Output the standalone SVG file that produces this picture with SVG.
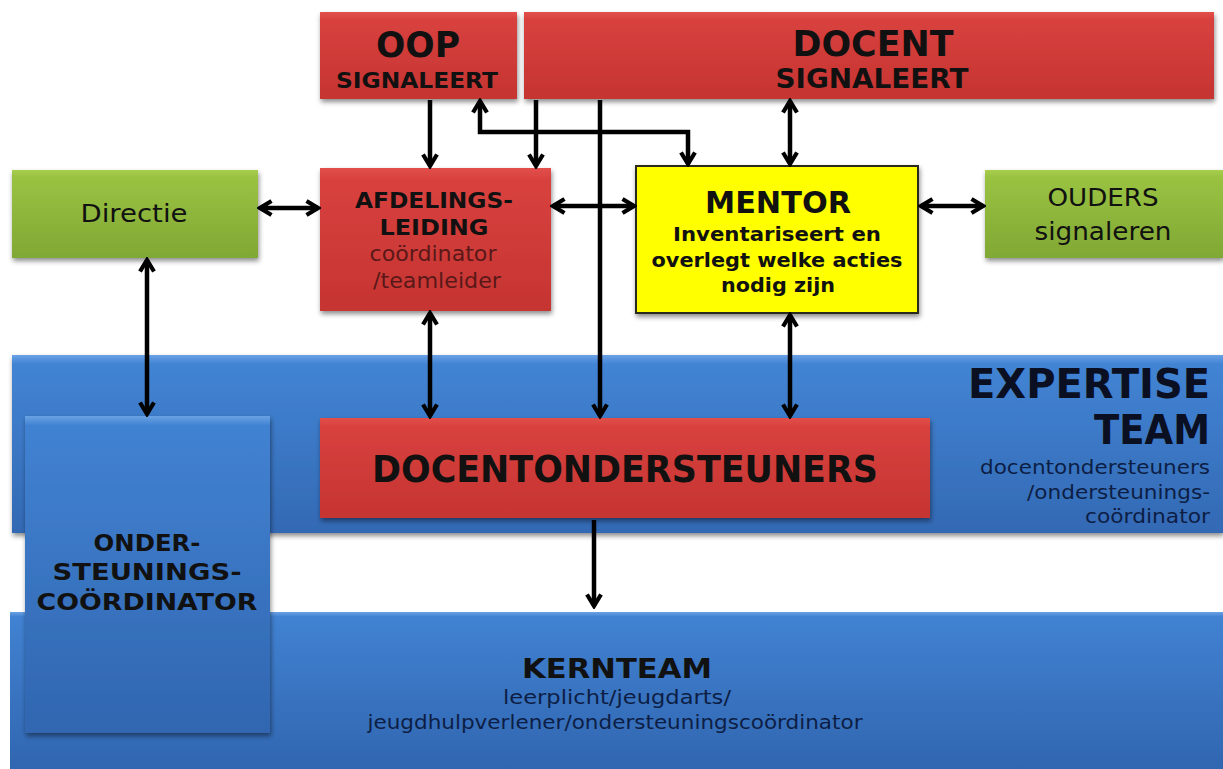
<svg xmlns="http://www.w3.org/2000/svg" width="1223" height="769" viewBox="0 0 1223 769">
<defs>
<linearGradient id="gRed" x1="0" y1="0" x2="0" y2="1"><stop offset="0" stop-color="#e2504b"/><stop offset="0.08" stop-color="#d8413e"/><stop offset="1" stop-color="#c53431"/></linearGradient>
<linearGradient id="gGreen" x1="0" y1="0" x2="0" y2="1"><stop offset="0" stop-color="#a8ce4e"/><stop offset="0.08" stop-color="#9ac242"/><stop offset="1" stop-color="#80a834"/></linearGradient>
<linearGradient id="gBlue" x1="0" y1="0" x2="0" y2="1"><stop offset="0" stop-color="#6aa2e4"/><stop offset="0.05" stop-color="#4284d4"/><stop offset="1" stop-color="#3369b4"/></linearGradient>
<linearGradient id="gBlue2" x1="0" y1="0" x2="0" y2="1"><stop offset="0" stop-color="#6aa2e4"/><stop offset="0.03" stop-color="#4182d2"/><stop offset="1" stop-color="#3166b0"/></linearGradient>
<filter id="sh" x="-5%" y="-5%" width="115%" height="120%"><feDropShadow dx="1" dy="3" stdDeviation="2.5" flood-color="#000" flood-opacity="0.45"/></filter>
<marker id="ah" viewBox="0 0 18 18" refX="15" refY="9" markerWidth="18" markerHeight="18" markerUnits="userSpaceOnUse" orient="auto-start-reverse">
<path d="M3.5,2 L15,9 L3.5,16" fill="none" stroke="#000" stroke-width="4.2" stroke-linejoin="miter"/>
</marker>
<style>
.t{font-family:"DejaVu Sans","Verdana",sans-serif;fill:#111;text-anchor:middle}
.b{font-weight:bold}
.r{text-anchor:end}
.red{fill:url(#gRed)}
.green{fill:url(#gGreen)}
.c{fill:none;stroke:#000;stroke-width:4.5}
</style>
</defs>
<rect width="1223" height="769" fill="#fff"/>

<g id="expertise">
<rect x="12" y="355" width="1211" height="178" fill="url(#gBlue)" filter="url(#sh)"/>
<text class="t b r" x="1210" y="398" font-size="41" textLength="242" lengthAdjust="spacingAndGlyphs" style="fill:#0a0f22">EXPERTISE</text>
<text class="t b r" x="1210" y="444" font-size="41" textLength="116" lengthAdjust="spacingAndGlyphs" style="fill:#0a0f22">TEAM</text>
<text class="t r" x="1210" y="474" font-size="20" textLength="230" lengthAdjust="spacingAndGlyphs" style="fill:#0d1e45">docentondersteuners</text>
<text class="t r" x="1210" y="499" font-size="20" textLength="183" lengthAdjust="spacingAndGlyphs" style="fill:#0d1e45">/ondersteunings-</text>
<text class="t r" x="1210" y="523" font-size="20" textLength="125" lengthAdjust="spacingAndGlyphs" style="fill:#0d1e45">coördinator</text>
</g>

<g id="kernteam">
<rect x="10" y="612" width="1213" height="157" fill="url(#gBlue2)"/>
<text class="t b" x="617" y="678" font-size="27" textLength="190" lengthAdjust="spacingAndGlyphs">KERNTEAM</text>
<text class="t" x="617" y="704" font-size="19" style="fill:#0d1e45" textLength="228" lengthAdjust="spacingAndGlyphs">leerplicht/jeugdarts/</text>
<text class="t" x="615" y="729" font-size="19" style="fill:#0d1e45" textLength="495" lengthAdjust="spacingAndGlyphs">jeugdhulpverlener/ondersteuningscoördinator</text>
</g>

<g id="ondersteunings">
<rect x="25" y="416" width="245" height="317" fill="url(#gBlue2)" filter="url(#sh)"/>
<text class="t b" x="147" y="551" font-size="23" textLength="107" lengthAdjust="spacingAndGlyphs">ONDER-</text>
<text class="t b" x="147" y="580" font-size="23" textLength="189" lengthAdjust="spacingAndGlyphs">STEUNINGS-</text>
<text class="t b" x="147" y="610" font-size="23" textLength="221" lengthAdjust="spacingAndGlyphs">COÖRDINATOR</text>
</g>

<g id="docentondersteuners">
<rect x="320" y="418" width="610" height="100" class="red" filter="url(#sh)"/>
<text class="t b" x="625" y="482" font-size="38" textLength="506" lengthAdjust="spacingAndGlyphs">DOCENTONDERSTEUNERS</text>
</g>

<g id="oop">
<rect x="320" y="12" width="197" height="87" class="red" filter="url(#sh)"/>
<text class="t b" x="418" y="57" font-size="35" textLength="84" lengthAdjust="spacingAndGlyphs">OOP</text>
<text class="t b" x="417" y="88" font-size="21" textLength="162" lengthAdjust="spacingAndGlyphs">SIGNALEERT</text>
</g>

<g id="docent">
<rect x="524" y="12" width="690" height="87" class="red" filter="url(#sh)"/>
<text class="t b" x="873" y="56" font-size="35" textLength="161" lengthAdjust="spacingAndGlyphs">DOCENT</text>
<text class="t b" x="872" y="88" font-size="27" textLength="193" lengthAdjust="spacingAndGlyphs">SIGNALEERT</text>
</g>

<g id="directie">
<rect x="12" y="170" width="246" height="88" class="green" filter="url(#sh)"/>
<text class="t" x="134" y="222" font-size="25" textLength="107" lengthAdjust="spacingAndGlyphs">Directie</text>
</g>

<g id="afdelingsleiding">
<rect x="320" y="168" width="231" height="143" class="red" filter="url(#sh)"/>
<text class="t b" x="434" y="208" font-size="22" textLength="158" lengthAdjust="spacingAndGlyphs">AFDELINGS-</text>
<text class="t b" x="434" y="235" font-size="22" textLength="109" lengthAdjust="spacingAndGlyphs">LEIDING</text>
<text class="t" x="433" y="261" font-size="21" textLength="127" lengthAdjust="spacingAndGlyphs" style="fill:#5a1818">coördinator</text>
<text class="t" x="437" y="288" font-size="21" textLength="128" lengthAdjust="spacingAndGlyphs" style="fill:#5a1818">/teamleider</text>
</g>

<g id="mentor">
<rect x="636" y="166" width="282" height="147" fill="#ffff00" stroke="#2a2a1a" stroke-width="2" filter="url(#sh)"/>
<text class="t b" x="778" y="213" font-size="31" textLength="146" lengthAdjust="spacingAndGlyphs">MENTOR</text>
<text class="t b" x="777" y="241" font-size="20" textLength="208" lengthAdjust="spacingAndGlyphs">Inventariseert en</text>
<text class="t b" x="777" y="267" font-size="20" textLength="251" lengthAdjust="spacingAndGlyphs">overlegt welke acties</text>
<text class="t b" x="778" y="292" font-size="20" textLength="114" lengthAdjust="spacingAndGlyphs">nodig zijn</text>
</g>

<g id="ouders">
<rect x="985" y="170" width="238" height="88" class="green" filter="url(#sh)"/>
<text class="t" x="1103" y="206" font-size="25" textLength="111" lengthAdjust="spacingAndGlyphs">OUDERS</text>
<text class="t" x="1103" y="240" font-size="25" textLength="137" lengthAdjust="spacingAndGlyphs">signaleren</text>
</g>

<g id="connectors">
<line class="c" x1="430" y1="100" x2="430" y2="166" marker-end="url(#ah)"/>
<line class="c" x1="536" y1="100" x2="536" y2="166" marker-end="url(#ah)"/>
<line class="c" x1="600" y1="100" x2="600" y2="416" marker-end="url(#ah)"/>
<path class="c" d="M480,101 V132 H688 V164" marker-start="url(#ah)" marker-end="url(#ah)"/>
<line class="c" x1="790" y1="101" x2="790" y2="164" marker-start="url(#ah)" marker-end="url(#ah)"/>
<line class="c" x1="260" y1="208" x2="318" y2="208" marker-start="url(#ah)" marker-end="url(#ah)"/>
<line class="c" x1="553" y1="206" x2="634" y2="206" marker-start="url(#ah)" marker-end="url(#ah)"/>
<line class="c" x1="921" y1="206" x2="983" y2="206" marker-start="url(#ah)" marker-end="url(#ah)"/>
<line class="c" x1="147" y1="260" x2="147" y2="414" marker-start="url(#ah)" marker-end="url(#ah)"/>
<line class="c" x1="430" y1="313" x2="430" y2="416" marker-start="url(#ah)" marker-end="url(#ah)"/>
<line class="c" x1="790" y1="315" x2="790" y2="416" marker-start="url(#ah)" marker-end="url(#ah)"/>
<line class="c" x1="594" y1="520" x2="594" y2="606" marker-end="url(#ah)"/>
</g>
</svg>
